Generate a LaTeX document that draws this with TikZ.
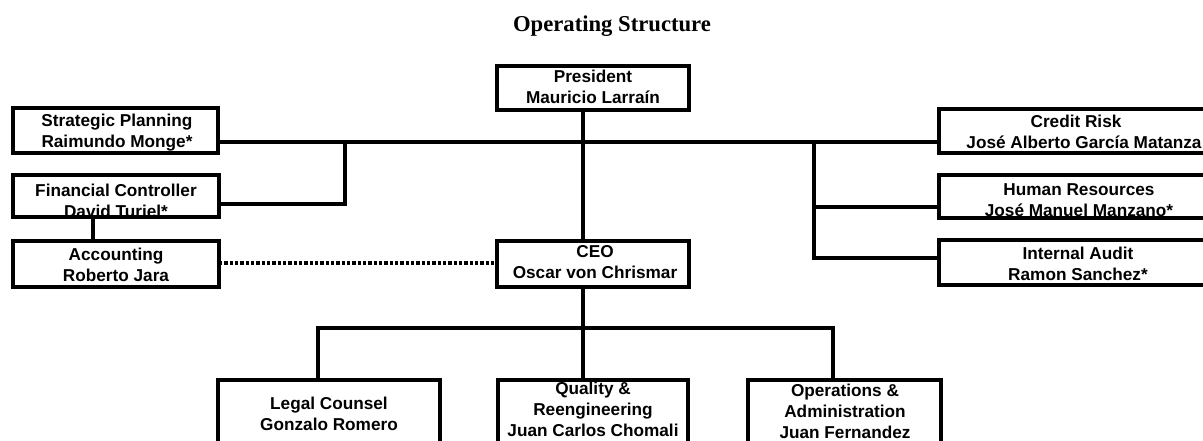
\documentclass[tikz,border=0pt]{standalone}
\usepackage{fontspec}
\setmainfont{Liberation Serif}
\newfontfamily\boxfont{Liberation Sans}
\begin{document}
\begin{tikzpicture}[x=0.75pt,y=-0.75pt,
  unit/.style={draw=black,line width=2.7pt,rectangle,inner sep=0pt,outer sep=0pt,anchor=north west},
  lbl/.style={font=\boxfont\bfseries\fontsize{12.9pt}{15.8pt}\selectfont,align=center,inner sep=0pt},
  link/.style={line width=2.5pt,line cap=rect},
  dotlink/.style={line width=2.5pt,dash pattern=on 2.4pt off 1.6pt}]
\useasboundingbox (0,0) rectangle (1203,441);
\clip (0,0) rectangle (1203,441);
% title
\node[font=\bfseries\fontsize{17pt}{20pt}\selectfont] (title) at (612,26) {Operating Structure};
% boxes
\node[unit,minimum width=192*0.75pt,minimum height=44*0.75pt] (pres) at (497,66) {};
\node[unit,minimum width=205*0.75pt,minimum height=45*0.75pt] (sp) at (13,108) {};
\node[unit,minimum width=206*0.75pt,minimum height=42*0.75pt] (fc) at (13,175) {};
\node[unit,minimum width=206*0.75pt,minimum height=46*0.75pt] (acc) at (13,241) {};
\node[unit,minimum width=192*0.75pt,minimum height=46*0.75pt] (ceo) at (497,241) {};
\node[unit,minimum width=276*0.75pt,minimum height=44*0.75pt] (cr) at (939,109) {};
\node[unit,minimum width=276*0.75pt,minimum height=43*0.75pt] (hr) at (939,175) {};
\node[unit,minimum width=276*0.75pt,minimum height=45*0.75pt] (ia) at (939,240) {};
\node[unit,minimum width=222*0.75pt,minimum height=90*0.75pt] (legal) at (218,380) {};
\node[unit,minimum width=190*0.75pt,minimum height=90*0.75pt] (qual) at (498,380) {};
\node[unit,minimum width=193*0.75pt,minimum height=90*0.75pt] (ops) at (748,380) {};
% texts
\node[lbl] (presT) at (593,86.5) {President\\Mauricio Larraín};
\node[lbl] (spT) at (117,133) {Strategic Planning\\Raimundo Monge*};
\node[lbl] (fcT) at (116,201) {Financial Controller\\David Turiel*};
\node[lbl] (accT) at (116,265) {Accounting\\Roberto Jara};
\node[lbl] (ceoT) at (595,262.5) {CEO\\Oscar von Chrismar};
\node[lbl] (crT) at (1076,132) {Credit Risk\\\hspace*{12pt}José Alberto García Matanza};
\node[lbl] (hrT) at (1079,200) {Human Resources\\José Manuel Manzano*};
\node[lbl] (iaT) at (1078,263.5) {Internal Audit\\Ramon Sanchez*};
\node[lbl] (legalT) at (329,413.5) {Legal Counsel\\Gonzalo Romero};
\node[lbl] (qualT) at (593,409) {Quality \&\\Reengineering\\Juan Carlos Chomali};
\node[lbl] (opsT) at (845,411) {Operations \&\\Administration\\Juan Fernandez};
% junction coordinates
\coordinate (jtop) at (583,142);
\coordinate (jl) at (345,142);
\coordinate (jlb) at (345,204);
\coordinate (xa) at (93,0);
\coordinate (jr) at (814,142);
\coordinate (jrh) at (814,207);
\coordinate (jri) at (814,258);
\coordinate (ydot) at (0,263);
\coordinate (jb) at (583,328);
\coordinate (jbl) at (318,328);
\coordinate (jbr) at (833,328);
% connectors
\draw[link] (pres.south -| jtop) -- (ceo.north -| jtop);
\draw[link] (sp.east |- jtop) -- (cr.west |- jtop);
\draw[link] (jl) -- (jlb) -- (fc.east |- jlb);
\draw[link] (fc.south -| xa) -- (acc.north -| xa);
\draw[dotlink] (acc.east |- ydot) -- (ceo.west |- ydot);
\draw[link] (jr) -- (jri) -- (ia.west |- jri);
\draw[link] (jrh) -- (hr.west |- jrh);
\draw[link] (ceo.south -| jb) -- (qual.north -| jb);
\draw[link] (legal.north -| jbl) -- (jbl) -- (jbr) -- (ops.north -| jbr);
\end{tikzpicture}
\end{document}
